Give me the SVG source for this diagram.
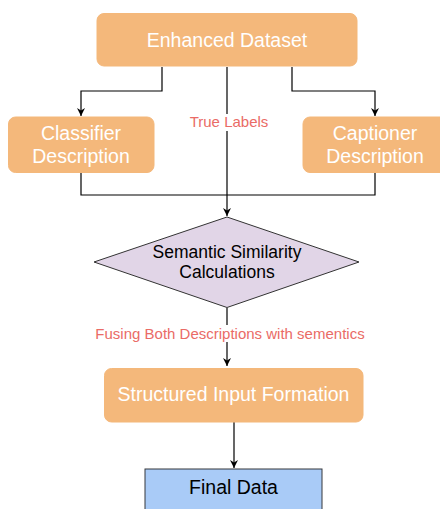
<svg xmlns="http://www.w3.org/2000/svg" width="440" height="509" viewBox="0 0 440 509">
<defs>
<marker id="arr" viewBox="0 0 10 10" refX="10" refY="5" markerWidth="8" markerHeight="8" markerUnits="userSpaceOnUse" orient="auto">
<path d="M0,0 L10,5 L0,10 L3,5 Z" fill="#000"/>
</marker>
<style>
.box{fill:#f4b87b;stroke:#f4b87b;stroke-width:1}
.wt{font-family:"Liberation Sans",Arial,sans-serif;font-size:19.5px;fill:#fff;text-anchor:middle}
.bt{font-family:"Liberation Sans",Arial,sans-serif;font-size:17.5px;fill:#000;text-anchor:middle}
.lbl{font-family:"Liberation Sans",Arial,sans-serif;font-size:15px;fill:#ea6b66;text-anchor:middle}
.edge{fill:none;stroke:#000;stroke-width:1.2}
</style>
</defs>
<rect width="440" height="509" fill="#fff"/>
<g id="connectors">
<path class="edge" d="M162,67 V91 H81 V116" marker-end="url(#arr)"/>
<path class="edge" d="M292,67 V91 H375 V116" marker-end="url(#arr)"/>
<path class="edge" d="M227,67 V216" marker-end="url(#arr)"/>
<path class="edge" d="M81,173 V195 H375 V173"/>
<path class="edge" d="M227,308 V366" marker-end="url(#arr)"/>
<path class="edge" d="M234,422 V468" marker-end="url(#arr)"/>
<rect x="188" y="114" width="83" height="17" fill="#fff"/>
<text class="lbl" x="229" y="127">True Labels</text>
<rect x="92" y="325" width="276" height="17" fill="#fff"/>
<text class="lbl" x="230" y="339">Fusing Both Descriptions with sementics</text>
</g>
<g id="enhanced-dataset">
<rect class="box" x="97" y="13.5" width="260" height="52.5" rx="7"/>
<text class="wt" x="227" y="47">Enhanced Dataset</text>
</g>
<g id="classifier-description">
<rect class="box" x="8.5" y="117" width="145.5" height="55.5" rx="7"/>
<text class="wt" x="81" y="140">Classifier</text>
<text class="wt" x="81" y="163">Description</text>
</g>
<g id="captioner-description">
<rect class="box" x="303" y="117" width="146" height="55.5" rx="7"/>
<text class="wt" x="375" y="140">Captioner</text>
<text class="wt" x="375" y="163">Description</text>
</g>
<g id="semantic-similarity">
<polygon points="227,217 359,262 227,307.5 94,262" fill="#e1d5e7" stroke="#333" stroke-width="1"/>
<text class="bt" x="227" y="258">Semantic Similarity</text>
<text class="bt" x="227" y="278">Calculations</text>
</g>
<g id="structured-input">
<rect class="box" x="104.5" y="368.5" width="258.5" height="53.5" rx="7"/>
<text class="wt" x="233.5" y="401">Structured Input Formation</text>
</g>
<g id="final-data">
<rect x="145" y="469" width="177" height="50" fill="#a9cbf7" stroke="#36393d" stroke-width="1"/>
<text x="233.5" y="494" font-family="Liberation Sans, Arial, sans-serif" font-size="19.5" fill="#000" text-anchor="middle">Final Data</text>
</g>
</svg>
